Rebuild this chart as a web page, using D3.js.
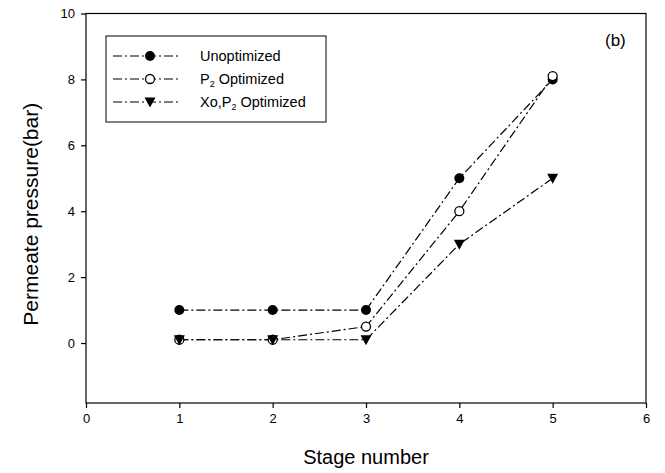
<!DOCTYPE html>
<html>
<head>
<meta charset="utf-8">
<script src="https://cdn.jsdelivr.net/npm/d3@7"></script>
<style>
    body { margin: 0; background: #fff; }
    svg text { font-family: 'Liberation Sans', Arial, sans-serif; fill: #000; }
    .series-line { fill: none; stroke: #000; stroke-width: 1.2; stroke-dasharray: 9, 3, 2, 3; }
    .axis path, .axis line { stroke: #000; stroke-width: 1.2; }
    .axis text { font-size: 13px; }
</style>
</head>
<body>
<svg id="chart" width="665" height="473"></svg>
<script>
    // data
    const stages = [1, 2, 3, 4, 5];
    const unoptimized = [1, 1, 1, 5, 8];
    const p2Optimized = [0.1, 0.1, 0.5, 4, 8.1];
    const xoP2Optimized = [0.1, 0.1, 0.1, 3, 5];
    const xTicks = [0, 1, 2, 3, 4, 5, 6];
    const yTicks = [0, 2, 4, 6, 8, 10];

    const seriesList = [
        { name: "Unoptimized", values: unoptimized, marker: "filled" },
        { name: "P2 Optimized", values: p2Optimized, marker: "open" },
        { name: "Xo,P2 Optimized", values: xoP2Optimized, marker: "triangle" }
    ];

    const plot = { left: 86, right: 646, top: 13.5, bottom: 403 };

    const svg = d3.select("#chart");
    const xScale = d3.scaleLinear().domain([0, 6]).range([plot.left, plot.right]);
    const yScale = d3.scaleLinear().domain([-1.82, 10]).range([plot.bottom, plot.top]);

    // frame
    svg.append("rect")
        .attr("x", plot.left).attr("y", plot.top)
        .attr("width", plot.right - plot.left).attr("height", plot.bottom - plot.top)
        .attr("fill", "none").attr("stroke", "#000").attr("stroke-width", 1.2);

    svg.append("g").attr("class", "axis")
        .attr("transform", `translate(0,${plot.bottom})`)
        .call(d3.axisBottom(xScale).tickValues(xTicks).tickFormat(d3.format("d"))
            .tickSize(5).tickPadding(6).tickSizeOuter(0))
        .call(g => g.select(".domain").remove());

    svg.append("g").attr("class", "axis")
        .attr("transform", `translate(${plot.left},0)`)
        .call(d3.axisLeft(yScale).tickValues(yTicks).tickFormat(d3.format("d"))
            .tickSize(5).tickPadding(6).tickSizeOuter(0))
        .call(g => g.select(".domain").remove());

    // axis titles
    svg.append("text")
        .attr("x", (plot.left + plot.right) / 2).attr("y", 464)
        .attr("text-anchor", "middle").style("font-size", "20px")
        .text("Stage number");
    svg.append("text")
        .attr("transform", `translate(38,${(plot.top + plot.bottom) / 2 + 6}) rotate(-90)`)
        .attr("text-anchor", "middle").style("font-size", "21px")
        .text("Permeate pressure(bar)");

    svg.append("text")
        .attr("x", 605).attr("y", 46)
        .style("font-size", "17px")
        .text("(b)");

    function drawMarker(g, type, x, y) {
        if (type === "filled") {
            g.append("circle").attr("cx", x).attr("cy", y).attr("r", 5).attr("fill", "#000");
        } else if (type === "open") {
            g.append("circle").attr("cx", x).attr("cy", y).attr("r", 4.5)
                .attr("fill", "#fff").attr("stroke", "#000").attr("stroke-width", 1.3);
        } else {
            g.append("path")
                .attr("d", `M${x - 5.5},${y - 4.5}L${x + 5.5},${y - 4.5}L${x},${y + 5.5}Z`)
                .attr("fill", "#000");
        }
    }

    const lineGen = d3.line()
        .x((d, i) => xScale(stages[i]))
        .y(d => yScale(d));

    // lines first, then markers on top
    seriesList.forEach(s => {
        svg.append("path").attr("class", "series-line").attr("d", lineGen(s.values));
    });
    seriesList.forEach(s => {
        const g = svg.append("g");
        s.values.forEach((v, i) => drawMarker(g, s.marker, xScale(stages[i]), yScale(v)));
    });

    // legend
    const legend = svg.append("g");
    legend.append("rect")
        .attr("x", 106).attr("y", 36).attr("width", 220).attr("height", 86)
        .attr("fill", "#fff").attr("stroke", "#000").attr("stroke-width", 1);
    const legendY = [56, 79, 102];
    seriesList.forEach((s, i) => {
        const y = legendY[i];
        legend.append("line")
            .attr("class", "series-line")
            .attr("x1", 113).attr("x2", 181).attr("y1", y).attr("y2", y);
        drawMarker(legend, s.marker, 150, y);
        const t = legend.append("text")
            .attr("x", 200).attr("y", y + 5)
            .style("font-size", "14.5px");
        if (s.name === "Unoptimized") {
            t.text("Unoptimized");
        } else {
            const pre = s.name.startsWith("Xo") ? "Xo,P" : "P";
            t.append("tspan").text(pre);
            t.append("tspan").attr("dy", 3).style("font-size", "9px").text("2");
            t.append("tspan").attr("dy", -3).text(" Optimized");
        }
    });
</script>
</body>
</html>
